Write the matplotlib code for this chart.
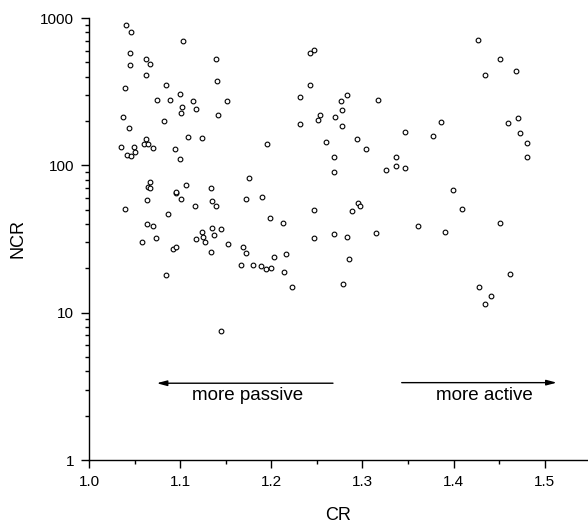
import matplotlib
matplotlib.use("Agg")
import matplotlib.pyplot as plt
from matplotlib.ticker import FixedLocator, LogLocator, NullFormatter, FixedFormatter

plt.rcParams['font.family'] = ['Liberation Sans', 'DejaVu Sans']

# CR (x) and NCR (y) values
cr = [1.041, 1.046, 1.103, 1.045, 1.062, 1.067, 1.045, 1.139, 1.062, 1.140,
      1.039, 1.084, 1.100, 1.075, 1.089, 1.114, 1.151, 1.102, 1.117, 1.101,
      1.037, 1.142, 1.082, 1.044, 1.109, 1.124, 1.063, 1.060, 1.065, 1.035,
      1.049, 1.070, 1.094, 1.051, 1.042, 1.046, 1.100, 1.176,
      1.247, 1.242, 1.242, 1.232, 1.283, 1.277, 1.317, 1.278, 1.253, 1.251,
      1.270, 1.232, 1.278, 1.347, 1.195, 1.260, 1.294, 1.304, 1.269, 1.337,
      1.269, 1.326, 1.337, 1.347,
      1.427, 1.451, 1.435, 1.469, 1.386, 1.377, 1.460, 1.471, 1.473, 1.481,
      1.481,
      1.067, 1.065, 1.067, 1.106, 1.134, 1.095, 1.096, 1.064, 1.101, 1.172,
      1.135, 1.139, 1.116, 1.040, 1.087, 1.064, 1.070, 1.135, 1.124, 1.145,
      1.125, 1.137, 1.074, 1.058, 1.117, 1.127, 1.153, 1.092, 1.096, 1.134,
      1.169, 1.172, 1.167, 1.145, 1.084,
      1.190, 1.247, 1.295, 1.297, 1.289, 1.199, 1.213, 1.361, 1.247, 1.269,
      1.283, 1.315, 1.203, 1.216, 1.180, 1.189, 1.194, 1.200, 1.214, 1.285,
      1.223, 1.279,
      1.399, 1.409, 1.391, 1.451, 1.462, 1.428, 1.441, 1.435]

ncr = [898, 808, 699, 580, 525, 486, 483, 525, 411, 374,
       334, 353, 305, 279, 278, 272, 272, 249, 243, 226,
       213, 218, 199, 179, 156, 153, 152, 139, 139, 133,
       133, 131, 129, 124, 118, 116, 111, 81.7,
       610, 577, 353, 290, 302, 274, 277, 239, 221, 204,
       214, 190, 184, 168, 140, 143, 152, 129, 114, 114,
       89.8, 93.1, 99.5, 95.6,
       707, 528, 413, 435, 198, 158, 195, 208, 166, 141,
       114,
       77.1, 71.4, 70.2, 73.2, 70.6, 65.3, 65.7, 58.0, 58.9, 59.4,
       57.3, 53.3, 53.0, 50.8, 46.8, 40.0, 39.0, 37.6, 35.3, 36.8,
       32.5, 33.5, 32.1, 30.2, 31.5, 30.3, 29.1, 26.9, 28.1, 25.9,
       27.9, 25.4, 21.1, 7.51, 17.9,
       60.7, 50.0, 55.3, 53.3, 48.8, 44.0, 40.8, 38.8, 32.1, 34.1,
       32.7, 34.6, 23.8, 25.0, 21.1, 20.8, 19.8, 20.2, 19.0, 23.3,
       14.9, 15.7,
       68.4, 50.8, 35.3, 40.5, 18.4, 14.9, 13.0, 11.5]

x_ticks = [1.0, 1.1, 1.2, 1.3, 1.4, 1.5]
x_tick_labels = ["1.0", "1.1", "1.2", "1.3", "1.4", "1.5"]
y_ticks = [1, 10, 100, 1000]
y_tick_labels = ["1", "10", "100", "1000"]

fig = plt.figure(figsize=(5.88, 5.25), dpi=100)
ax = fig.add_axes([89 / 588, 65 / 525, 499 / 588, 442 / 525])

ax.plot(cr, ncr, linestyle='none', marker='o', ms=3.4, mew=0.8,
        mfc='white', mec='black', clip_on=False)

ax.set_yscale('log')
ax.set_xlim(1.0, 1.5475)
ax.set_ylim(1, 1000)

for s in ['top', 'right']:
    ax.spines[s].set_visible(False)
for s in ['left', 'bottom']:
    ax.spines[s].set_linewidth(1.0)

ax.xaxis.set_major_locator(FixedLocator(x_ticks))
ax.xaxis.set_major_formatter(FixedFormatter(x_tick_labels))
ax.xaxis.set_minor_locator(FixedLocator([1.05, 1.15, 1.25, 1.35, 1.45]))
ax.yaxis.set_major_locator(FixedLocator(y_ticks))
ax.yaxis.set_major_formatter(FixedFormatter(y_tick_labels))
ax.yaxis.set_minor_locator(LogLocator(base=10, subs=range(2, 10)))
ax.yaxis.set_minor_formatter(NullFormatter())

ax.tick_params(which='major', direction='out', length=5.8, width=1.0,
               labelsize=11, pad=5, colors='black')
ax.tick_params(which='minor', direction='out', length=3.2, width=1.0)

ax.set_xlabel("CR", fontsize=13, labelpad=13)
ax.set_ylabel("NCR", fontsize=13, labelpad=10)

arrow_props = dict(arrowstyle='-|>,head_length=0.6,head_width=0.16',
                   color='black', lw=1.0, shrinkA=0, shrinkB=0)
ax.annotate("", xy=(1.0743, 3.32), xytext=(1.2677, 3.32), arrowprops=arrow_props)
ax.annotate("", xy=(1.5132, 3.35), xytext=(1.3431, 3.35), arrowprops=arrow_props)
ax.text(1.1739, 2.72, "more passive", ha='center', va='center', fontsize=13.5)
ax.text(1.4334, 2.72, "more active", ha='center', va='center', fontsize=13.5)

fig.savefig("out.png", dpi=100)
